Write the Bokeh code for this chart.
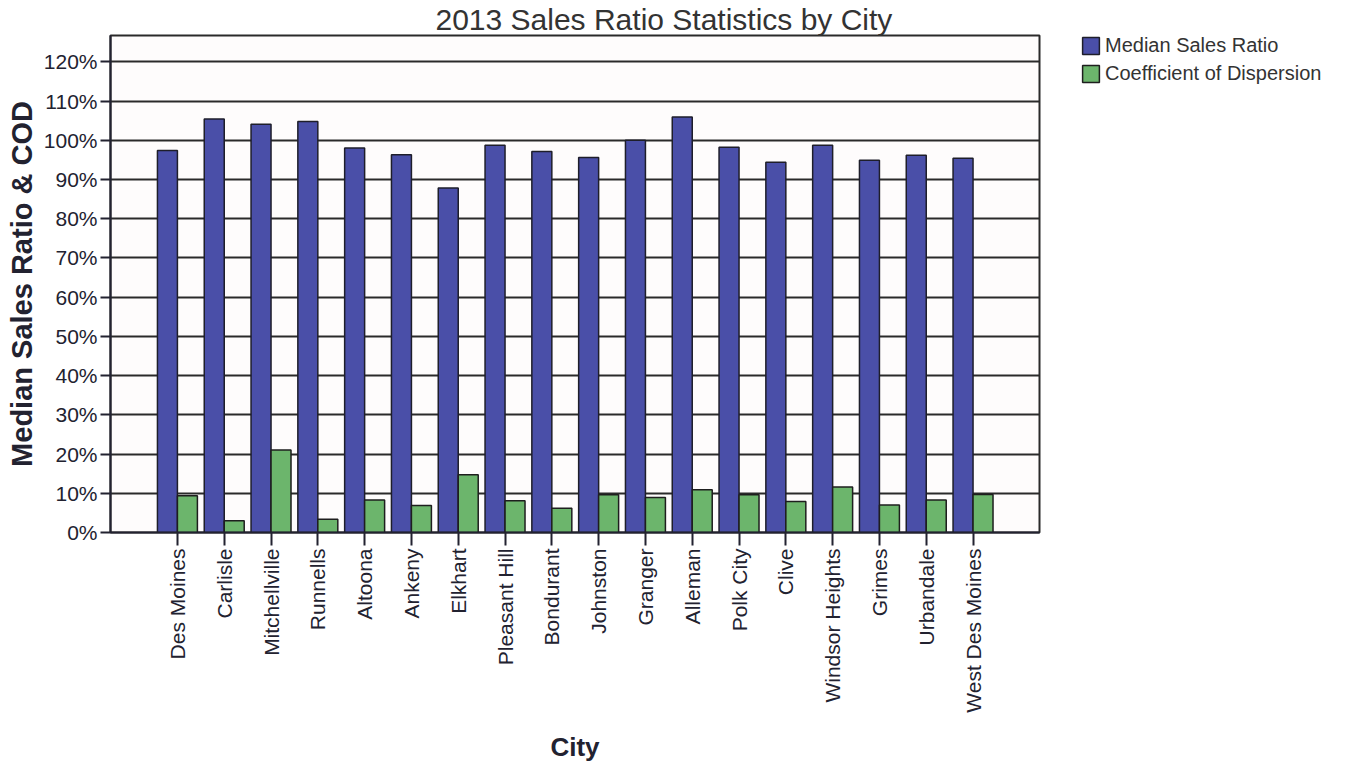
from bokeh.plotting import figure
from bokeh.models import (ColumnDataSource, Range1d, FixedTicker, PrintfTickFormatter,
                          Legend, LegendItem, Title)
from bokeh.transform import dodge
from bokeh.embed import file_html
from bokeh.resources import INLINE

cities = ["Des Moines", "Carlisle", "Mitchellville", "Runnells", "Altoona", "Ankeny",
          "Elkhart", "Pleasant Hill", "Bondurant", "Johnston", "Granger", "Alleman",
          "Polk City", "Clive", "Windsor Heights", "Grimes", "Urbandale", "West Des Moines"]
median_ratio = [97.4, 105.4, 104.1, 104.8, 98.0, 96.3, 87.8, 98.7, 97.1, 95.6,
                100.0, 105.9, 98.2, 94.4, 98.7, 94.9, 96.2, 95.4]
cod = [9.4, 3.0, 21.0, 3.4, 8.3, 6.9, 14.7, 8.1, 6.2, 9.6,
       8.9, 10.9, 9.6, 7.9, 11.6, 7.0, 8.3, 9.7]
y_ticks = [0, 10, 20, 30, 40, 50, 60, 70, 80, 90, 100, 110, 120]

idx = list(range(len(cities)))
src = ColumnDataSource(dict(x=idx, msr=median_ratio, cod=cod))

FONT = "Liberation Sans"
DARK = "#222230"

p = figure(frame_width=929, frame_height=497, output_backend="svg", toolbar_location=None,
           x_range=Range1d(-1.43, 18.42), y_range=Range1d(0, 126.7),
           min_border_left=110, min_border_right=0, min_border_top=0,
           min_border_bottom=229, background_fill_color="#fefcfc",
           border_fill_color="white")

p.title = Title(text="2013 Sales Ratio Statistics by City", align="left", offset=325,
                standoff=0, text_font=FONT, text_font_size="30px",
                text_font_style="normal", text_color="#333333")

bw = 0.427
r1 = p.vbar(x=dodge("x", -bw / 2, range=p.x_range), top="msr", width=bw, source=src,
            fill_color="#4a4fa8", line_color="#1e1e2a", line_width=1.5)
r2 = p.vbar(x=dodge("x", bw / 2, range=p.x_range), top="cod", width=bw, source=src,
            fill_color="#6cb56c", line_color="#1e1e1e", line_width=1.5)

# axes
p.xaxis.ticker = FixedTicker(ticks=idx)
p.xaxis.major_label_overrides = {i: c for i, c in zip(idx, cities)}
p.xaxis.major_label_orientation = 1.5708
p.xaxis.minor_tick_line_color = None
p.xaxis.major_tick_in = 0
p.xaxis.major_tick_out = 13
p.xaxis.major_label_standoff = 3
p.xaxis.axis_label = "City"
p.xaxis.axis_label_standoff = 16

p.yaxis.ticker = FixedTicker(ticks=y_ticks)
p.yaxis.formatter = PrintfTickFormatter(format="%d%%")
p.yaxis.minor_tick_line_color = None
p.yaxis.major_tick_in = 0
p.yaxis.major_tick_out = 10
p.yaxis.major_label_standoff = 3
p.yaxis.axis_label = "Median Sales Ratio & COD"
p.yaxis.axis_label_standoff = 3

for ax in (p.xaxis, p.yaxis):
    ax.axis_line_color = DARK
    ax.axis_line_width = 2
    ax.major_tick_line_color = DARK
    ax.major_tick_line_width = 2
    ax.major_label_text_font = FONT
    ax.major_label_text_font_size = "21px"
    ax.major_label_text_color = DARK
    ax.axis_label_text_font = FONT
    ax.axis_label_text_font_style = "bold"
    ax.axis_label_text_color = DARK
p.xaxis.axis_label_text_font_size = "26px"
p.yaxis.axis_label_text_font_size = "29px"

p.xgrid.grid_line_color = None
p.ygrid.ticker = FixedTicker(ticks=y_ticks)
p.ygrid.grid_line_color = "#2a2a2a"
p.ygrid.grid_line_width = 2

p.outline_line_color = "#2a2a2a"
p.outline_line_width = 2

legend = Legend(items=[LegendItem(label="Median Sales Ratio", renderers=[r1]),
                       LegendItem(label="Coefficient of Dispersion", renderers=[r2])],
                location=(41, 447), orientation="vertical",
                glyph_width=21, glyph_height=21, spacing=5, padding=0, margin=0,
                label_standoff=4, label_text_font=FONT, label_text_font_size="20px",
                label_text_color="#333333", border_line_color=None,
                background_fill_alpha=0)
p.add_layout(legend, "right")

open("out.html", "w").write(file_html(p, INLINE))
